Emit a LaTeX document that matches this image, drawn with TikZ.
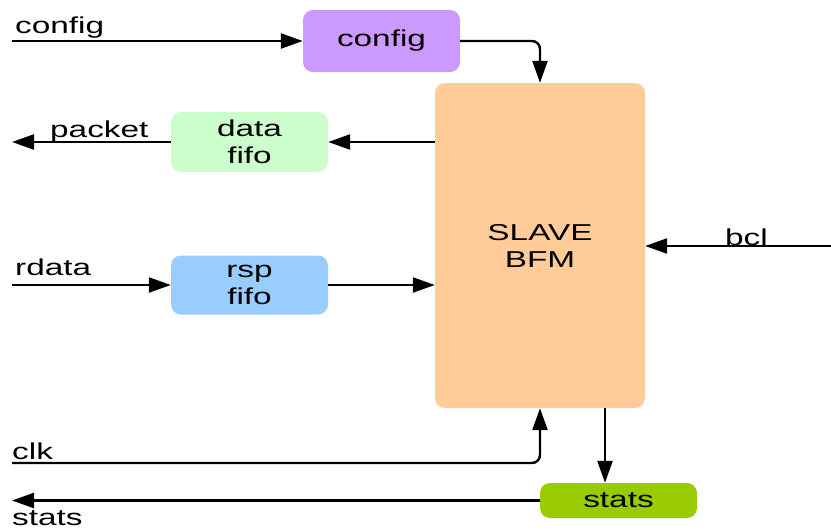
\documentclass[tikz,border=0pt]{standalone}
\usepackage{fontspec}
\setmainfont{Liberation Sans}[FakeStretch=1.45]
\usetikzlibrary{positioning, arrows.meta, calc}

\definecolor{cfgpurple}{RGB}{204,153,255}
\definecolor{datagreen}{RGB}{204,255,204}
\definecolor{rspblue}{RGB}{153,204,255}
\definecolor{bfmorange}{RGB}{255,204,153}
\definecolor{statsgreen}{RGB}{153,204,0}

\begin{document}
\begin{tikzpicture}[
    x=1pt, y=-1pt,
    block/.style={
        rectangle,
        rounded corners=10pt,
        draw=none,
        minimum width=157pt,
        minimum height=60pt,
        align=center,
        inner sep=0pt,
        font=\fontsize{23}{27}\selectfont
    },
    sig/.style={
        line width=2.4pt,
        -{Triangle[length=22pt, width=15pt]}
    },
    port_text/.style={
        anchor=base west,
        inner sep=0pt,
        font=\fontsize{23}{27}\selectfont
    }
]
    \useasboundingbox (0,0) rectangle (831,531);

    % Blocks
    \node[block, fill=cfgpurple, minimum height=62pt] (cfg) at (381.5,41) {config};
    \node[block, fill=datagreen] (datafifo) at (249.5,142) {data\\fifo};
    \node[block, fill=rspblue, minimum height=59pt] (rspfifo) at (249.5,285) {rsp\\fifo};
    \node[block, fill=bfmorange, minimum width=210pt, minimum height=325pt] (bfm) at (540,245.5) {SLAVE\\BFM};
    \node[block, fill=statsgreen, minimum height=35pt] (statsbox) at (618.5,500.5) {stats};

    % Port ends
    \coordinate (cfgin) at (12,41);
    \coordinate (packetout) at (12,142);
    \coordinate (rdatain) at (12,285);
    \coordinate (bclin) at (831,246);
    \coordinate (clkin) at (12,463);
    \coordinate (statsout) at (12,500.5);
    \coordinate (statstap) at (605,0);

    % Connections
    \draw[sig] (cfgin) -- (cfg.west);
    \draw[sig, rounded corners=8pt] (cfg.east) -| (bfm.north);
    \draw[sig] (bfm.west |- datafifo) -- (datafifo.east);
    \draw[sig] (datafifo.west) -- (packetout);
    \draw[sig] (rdatain) -- (rspfifo.west);
    \draw[sig] (rspfifo.east) -- (bfm.west |- rspfifo);
    \draw[sig] (bclin) -- (bfm.east |- bclin);
    \draw[sig, rounded corners=8pt] (clkin) -| (bfm.south);
    \draw[sig] (bfm.south -| statstap) -- (statsbox.north -| statstap);
    \draw[sig] (statsbox.west) -- (statsout);

    % Port names
    \node[port_text] (lbl_cfg) at (15,33) {config};
    \node[port_text] (lbl_packet) at (50,137) {packet};
    \node[port_text] (lbl_rdata) at (15,275) {rdata};
    \node[port_text] (lbl_bcl) at (725,245) {bcl};
    \node[port_text] (lbl_clk) at (12,459) {clk};
    \node[port_text] (lbl_stats) at (12,525) {stats};

\end{tikzpicture}
\end{document}
